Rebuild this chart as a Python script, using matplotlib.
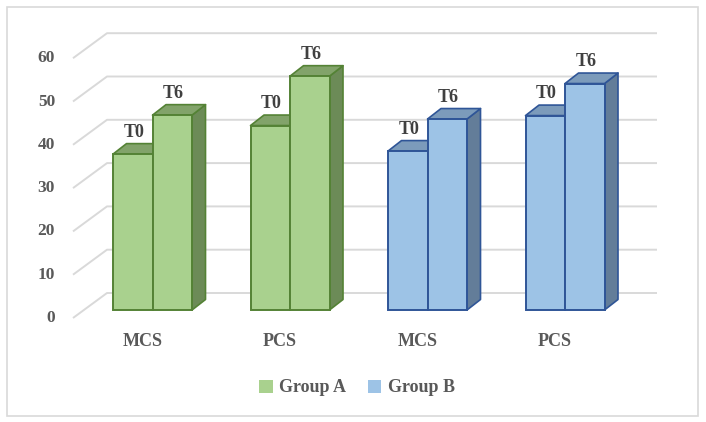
import matplotlib
matplotlib.use('Agg')
import matplotlib.pyplot as plt
from matplotlib.patches import Polygon, Rectangle
import numpy as np

# values
categories = ['MCS', 'PCS', 'MCS', 'PCS']
groups = ['Group A', 'Group A', 'Group B', 'Group B']
t0_values = [36.0, 42.6, 36.7, 44.9]
t6_values = [45.0, 54.0, 44.1, 52.3]
bar_labels = ['T0', 'T6']
y_ticks = [0, 10, 20, 30, 40, 50, 60]

colors = {
    'Group A': dict(front='#A9D18E', top='#82A36A', side='#6C8B57', edge='#548235'),
    'Group B': dict(front='#9DC3E6', top='#7C9BBB', side='#637D99', edge='#2F5597'),
}

W, H = 706, 422
fig = plt.figure(figsize=(W / 100, H / 100), dpi=100)
ax = fig.add_axes([0, 0, 1, 1])

# pixel scale of the fake 3d view
px_x = 137.5          # pixels per category step
px_y = 4.33           # pixels per value unit
x0_px, y0_px = 152.5, 112  # group 0 centre / value 0 (from bottom)
ax.set_xlim(-x0_px / px_x, (W - x0_px) / px_x)
ax.set_ylim(-y0_px / px_y, (H - y0_px) / px_y)
ax.axis('off')

def dx(p):
    return p / px_x

def dy(p):
    return p / px_y

bar_w = dx(39.5)
depth = (dx(13.5), dy(10.5))
front_floor = (dx(-11), dy(-8))
back_wall = (dx(23), dy(17))
grid_left = dx(84) - x0_px / px_x
grid_right = dx(657 - 23) - x0_px / px_x

# gridlines: diagonal on the left side wall, horizontal on the back wall
for v in y_ticks:
    xs = [grid_left + front_floor[0], grid_left + back_wall[0], grid_right + back_wall[0]]
    ys = [v + front_floor[1], v + back_wall[1], v + back_wall[1]]
    ax.plot(xs, ys, color='#D9D9D9', lw=1.4, zorder=1, solid_capstyle='butt')
    ax.text(grid_left + front_floor[0] - dx(18), v + front_floor[1], str(v),
            ha='right', va='center', fontsize=12.5, color='#595959',
            family='Liberation Serif', fontweight='bold')

def draw_bar(x, h, c, z):
    ddx, ddy = depth
    side = Polygon([(x + bar_w, 0), (x + bar_w + ddx, ddy), (x + bar_w + ddx, h + ddy), (x + bar_w, h)],
                   closed=True, fc=c['side'], ec=c['edge'], lw=1.2, zorder=z, joinstyle='round')
    top = Polygon([(x, h), (x + ddx, h + ddy), (x + bar_w + ddx, h + ddy), (x + bar_w, h)],
                  closed=True, fc=c['top'], ec=c['edge'], lw=1.2, zorder=z, joinstyle='round')
    ax.add_patch(side)
    ax.add_patch(top)
    ax.bar(x, h, width=bar_w, align='edge', color=c['front'], edgecolor=c['edge'],
           linewidth=1.4, zorder=z)

for i, (cat, grp) in enumerate(zip(categories, groups)):
    c = colors[grp]
    for j, val in enumerate([t0_values[i], t6_values[i]]):
        x = i - bar_w + j * bar_w
        draw_bar(x, val, c, 2 + i * 2 + j)
        ax.text(x + bar_w / 2 + depth[0] * 0.1, val + depth[1] + dy(3), bar_labels[j],
                ha='center', va='bottom', fontsize=13, color='#404040',
                family='Liberation Serif', fontweight='bold', zorder=20)
    ax.text(i + front_floor[0] * 0.9, dy(-32), cat, ha='center', va='center', fontsize=13,
            color='#595959', family='Liberation Serif', fontweight='bold')

# legend
from matplotlib.patches import Patch
handles = [Patch(fc=colors[g]['front'], ec='none') for g in ['Group A', 'Group B']]
leg = fig.legend(handles, ['Group A', 'Group B'], loc='center', bbox_to_anchor=(357 / W, 1 - 388 / H),
                 ncol=2, frameon=False, handlelength=0.75, handleheight=0.75, handletextpad=0.35,
                 columnspacing=1.2, prop=dict(family='Liberation Serif', weight='bold', size=13))
for t in leg.get_texts():
    t.set_color('#595959')

# outer chart border
fig.patches.append(Rectangle((7 / W, 6 / H), 691 / W, 409 / H, transform=fig.transFigure,
                             fill=False, ec='#D9D9D9', lw=1.2))

fig.savefig('out.png', dpi=100, facecolor='white')
